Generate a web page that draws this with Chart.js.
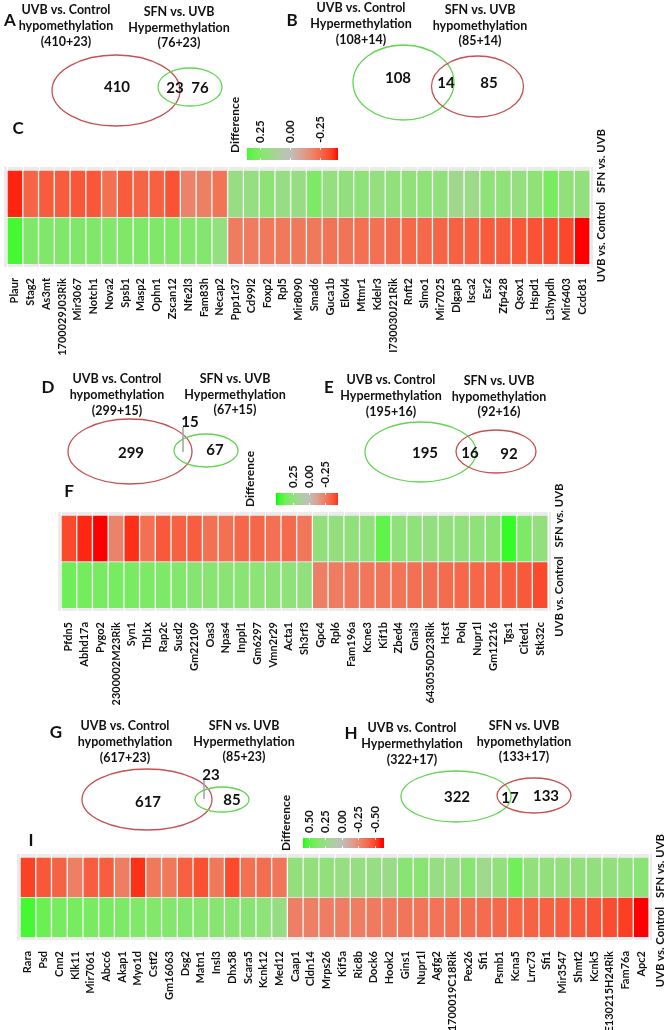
<!DOCTYPE html>
<html>
<head>
<meta charset="utf-8">
<script src="https://cdn.jsdelivr.net/npm/chart.js@4.4.0/dist/chart.umd.min.js"></script>
<style>
  html, body { margin: 0; padding: 0; background: #fff; }
  #page { position: relative; width: 666px; height: 1030px; overflow: hidden; }
  .box { position: absolute; left: 0; width: 666px; }
</style>
</head>
<body>
<div id="page"></div>
<script>
// ---- data ----
const rowLabels = ["UVB vs. Control", "SFN vs. UVB"]; // bottom row, top row

const genesC = ["Plaur","Stag2","As3mt","1700029J03Rik","Mir3067","Notch1","Nova2","Spsb1","Masp2","Ophn1","Zscan12","Nfe2l3","Fam83h","Necap2","Ppp1r37","Cd99l2","Foxp2","Rpl5","Mir8090","Smad6","Guca1b","Elovl4","Mtmr1","Kdelr3","I730030J21Rik","Rnft2","Slmo1","Mir7025","Dlgap5","Isca2","Esr2","Zfp428","Qsox1","Hspd1","L3hypdh","Mir6403","Ccdc81"];
const sfnUvbC = [-0.38,-0.27,-0.29,-0.29,-0.30,-0.30,-0.24,-0.29,-0.27,-0.28,-0.31,-0.19,-0.20,-0.23,0.18,0.19,0.21,0.18,0.18,0.26,0.19,0.20,0.21,0.19,0.20,0.20,0.21,0.20,0.15,0.16,0.21,0.21,0.19,0.21,0.27,0.21,0.20];
const uvbCtrlC = [0.36,0.25,0.25,0.25,0.25,0.25,0.24,0.25,0.25,0.25,0.25,0.24,0.24,0.19,-0.21,-0.21,-0.22,-0.22,-0.22,-0.22,-0.23,-0.23,-0.24,-0.24,-0.25,-0.26,-0.26,-0.27,-0.28,-0.28,-0.29,-0.29,-0.30,-0.31,-0.32,-0.33,-0.40];

const genesF = ["Pfdn5","Abhd17a","Pygo2","2300002M23Rik","Syn1","Tbl1x","Rap2c","Susd2","Gm22109","Oas3","Npas4","Inppl1","Gm6297","Vmn2r29","Acta1","Sh3rf3","Gpc4","Rpl6","Fam196a","Kcne3","Kif1b","Zbed4","Gnai3","6430550D23Rik","Hcst","Polq","Nupr1l","Gm12216","Tgs1","Cited1","Stk32c"];
const sfnUvbF = [-0.41,-0.47,-0.50,-0.24,-0.46,-0.30,-0.37,-0.35,-0.36,-0.30,-0.30,-0.33,-0.33,-0.30,-0.32,-0.28,0.25,0.24,0.25,0.26,0.40,0.26,0.26,0.24,0.25,0.26,0.26,0.28,0.47,0.32,0.25];
const uvbCtrlF = [0.36,0.35,0.34,0.34,0.335,0.325,0.32,0.30,0.29,0.285,0.28,0.275,0.27,0.265,0.26,0.25,-0.25,-0.26,-0.27,-0.28,-0.285,-0.29,-0.30,-0.305,-0.315,-0.325,-0.33,-0.34,-0.36,-0.37,-0.41];

const genesI = ["Rara","Psd","Cnn2","Klk11","Mir7061","Abcc6","Akap1","Myo1d","Cstf2","Gm16063","Dsg2","Matn1","Insl3","Dhx58","Scara5","Kcnk12","Med12","Caap1","Cldn14","Mrps26","Kif5a","Ric8b","Dock6","Hook2","Gins1","Nupr1l","Agfg2","1700019C18Rik","Pex26","Sfi1","Psmb1","Kcna5","Lrrc73","Sfi1","Mir3547","Shmt2","Kcnk5","E130215H24Rik","Fam76a","Apc2"];
const sfnUvbI = [-0.51,-0.45,-0.41,-0.30,-0.43,-0.43,-0.31,-0.55,-0.33,-0.33,-0.42,-0.47,-0.33,-0.49,-0.36,-0.37,-0.34,0.29,0.29,0.30,0.28,0.27,0.27,0.25,0.33,0.33,0.27,0.27,0.33,0.23,0.30,0.43,0.30,0.29,0.30,0.30,0.29,0.30,0.31,0.33];
const uvbCtrlI = [0.54,0.45,0.41,0.41,0.40,0.40,0.39,0.38,0.37,0.36,0.36,0.35,0.34,0.34,0.33,0.32,0.27,-0.30,-0.30,-0.31,-0.31,-0.31,-0.32,-0.32,-0.34,-0.34,-0.35,-0.36,-0.37,-0.38,-0.39,-0.40,-0.41,-0.42,-0.43,-0.44,-0.46,-0.48,-0.52,-0.60];

const legendTicksC = [0.25, 0.00, -0.25];
const legendTicksF = [0.25, 0.00, -0.25];
const legendTicksI = [0.50, 0.25, 0.00, -0.25, -0.50];

const vennLetters = ["A", "B", "D", "E", "G", "H"];
const vennLeftDir = ["hypomethylation", "Hypermethylation", "hypomethylation", "Hypermethylation", "hypomethylation", "Hypermethylation"];
const vennRightDir = ["Hypermethylation", "hypomethylation", "Hypermethylation", "hypomethylation", "Hypermethylation", "hypomethylation"];
const vennLeftOnly = [410, 108, 299, 195, 617, 322];
const vennShared = [23, 14, 15, 16, 23, 17];
const vennRightOnly = [76, 85, 67, 92, 85, 133];

// ---- look ----
const FONT = "Lato, 'Open Sans', sans-serif";
const INK = "#111";
const RED_LINE = "#C45252";
const GREEN_LINE = "#62D452";

// colour ramp grey -> green / red, interpolated in Lab like ggplot
function hexToLab(hex) {
  const c = [1, 3, 5].map(i => parseInt(hex.substr(i, 2), 16) / 255)
    .map(u => u <= 0.04045 ? u / 12.92 : Math.pow((u + 0.055) / 1.055, 2.4));
  const X = (0.4124 * c[0] + 0.3576 * c[1] + 0.1805 * c[2]) / 0.95047;
  const Y = 0.2126 * c[0] + 0.7152 * c[1] + 0.0722 * c[2];
  const Z = (0.0193 * c[0] + 0.1192 * c[1] + 0.9505 * c[2]) / 1.08883;
  const f = t => t > 0.008856 ? Math.cbrt(t) : 7.787 * t + 16 / 116;
  return [116 * f(Y) - 16, 500 * (f(X) - f(Y)), 200 * (f(Y) - f(Z))];
}
function labToRgb(L, a, b) {
  const fy = (L + 16) / 116, fx = fy + a / 500, fz = fy - b / 200;
  const g = t => t * t * t > 0.008856 ? t * t * t : (t - 16 / 116) / 7.787;
  const X = g(fx) * 0.95047, Y = g(fy), Z = g(fz) * 1.08883;
  const lin = [
    3.2406 * X - 1.5372 * Y - 0.4986 * Z,
    -0.9689 * X + 1.8758 * Y + 0.0415 * Z,
    0.0557 * X - 0.2040 * Y + 1.0570 * Z
  ];
  const s = lin.map(u => u <= 0.0031308 ? 12.92 * u : 1.055 * Math.pow(u, 1 / 2.4) - 0.055)
    .map(u => Math.round(Math.max(0, Math.min(1, u)) * 255));
  return `rgb(${s[0]},${s[1]},${s[2]})`;
}
const LAB_MID = hexToLab("#BEBEBE"), LAB_HI = hexToLab("#00FF00"), LAB_LO = hexToLab("#FF0000");
function diffColor(v, limit) {
  const t = Math.min(Math.abs(v) / limit, 1);
  const end = v >= 0 ? LAB_HI : LAB_LO;
  return labToRgb(
    LAB_MID[0] + (end[0] - LAB_MID[0]) * t,
    LAB_MID[1] + (end[1] - LAB_MID[1]) * t,
    LAB_MID[2] + (end[2] - LAB_MID[2]) * t
  );
}

function addBox(id, top, height) {
  const box = document.createElement("div");
  box.className = "box";
  box.style.top = top + "px";
  box.style.height = height + "px";
  const canvas = document.createElement("canvas");
  canvas.id = id;
  box.appendChild(canvas);
  document.getElementById("page").appendChild(box);
  return canvas;
}

// grey ggplot-style panel behind the tiles
const panelPlugin = {
  id: "panel",
  beforeDatasetsDraw(chart) {
    const { ctx, chartArea: a, scales } = chart;
    ctx.save();
    ctx.fillStyle = "#EBEBEB";
    ctx.fillRect(a.left, a.top, a.right - a.left, a.bottom - a.top);
    ctx.strokeStyle = "#FFFFFF";
    ctx.lineWidth = 1;
    const n = chart.data.datasets[0].data.length;
    for (let i = 0; i <= n; i++) {
      const x = Math.round(scales.x.getPixelForValue(i - 0.5)) + 0.5;
      ctx.beginPath();
      ctx.moveTo(x, a.top);
      ctx.lineTo(x, a.bottom);
      ctx.stroke();
    }
    ctx.restore();
  }
};

// rotated row names right of the tiles; they sit end to end around a gap
const rowNamePlugin = {
  id: "rowNames",
  afterDraw(chart, args, opts) {
    const { ctx, chartArea: a } = chart;
    const gapY = opts.gapY - chart.canvas.parentNode.offsetTop;
    ctx.save();
    ctx.fillStyle = INK;
    ctx.font = `bold 11.3px ${FONT}`;
    ctx.textBaseline = "middle";
    [[rowLabels[1], gapY - 4.5, "left"], [rowLabels[0], gapY + 4.5, "right"]].forEach(([name, y, align]) => {
      ctx.save();
      ctx.translate(a.right + 8, y);
      ctx.rotate(-Math.PI / 2);
      ctx.textAlign = align;
      ctx.fillText(name, 0, 0);
      ctx.restore();
    });
    ctx.restore();
  }
};

function makeHeatmap(id, genes, topVals, bottomVals, limit, cells, gapY) {
  const [x0, y0, x1, y1] = cells;
  const m = 3, padTop = 75, axisH = 95;
  const n = genes.length;
  const cw = (x1 - x0) / n;
  const rh = (y1 - y0) / 2;
  const top = y0 - m - padTop;
  const canvas = addBox(id, top, y1 + m + axisH - top);

  const tiles = (vals, row) => vals.map((v, i) => ({ x: i, y: [row, row + 1] }));
  const tileStyle = {
    borderColor: "rgba(255,255,255,0.22)",
    borderWidth: 1,
    grouped: false,
    barPercentage: 1,
    categoryPercentage: 1
  };

  return new Chart(canvas, {
    type: "bar",
    data: {
      datasets: [
        Object.assign({ label: rowLabels[0], data: tiles(bottomVals, 0), backgroundColor: bottomVals.map(v => diffColor(v, limit)) }, tileStyle),
        Object.assign({ label: rowLabels[1], data: tiles(topVals, 1), backgroundColor: topVals.map(v => diffColor(v, limit)) }, tileStyle)
      ]
    },
    options: {
      animation: false,
      responsive: true,
      maintainAspectRatio: false,
      layout: { padding: { left: x0 - m, right: 666 - (x1 + m), top: padTop, bottom: 0 } },
      plugins: {
        legend: { display: false },
        tooltip: { enabled: false },
        rowNames: { gapY: gapY }
      },
      scales: {
        x: {
          type: "linear",
          offset: false,
          min: -0.5 - m / cw,
          max: n - 0.5 + m / cw,
          grid: { display: false },
          border: { display: false },
          afterBuildTicks: scale => { scale.ticks = genes.map((g, i) => ({ value: i })); },
          afterFit: scale => { scale.height = axisH; },
          ticks: {
            autoSkip: false,
            minRotation: 90,
            maxRotation: 90,
            padding: 3,
            color: INK,
            font: { family: FONT, size: 11, weight: "bold" },
            callback: value => genes[value]
          }
        },
        y: {
          type: "linear",
          offset: false,
          min: -m / rh,
          max: 2 + m / rh,
          display: false
        }
      }
    },
    plugins: [panelPlugin, rowNamePlugin]
  });
}

makeHeatmap("heatC", genesC, sfnUvbC, uvbCtrlC, 0.40, [7, 170, 590, 264], 197.5);
makeHeatmap("heatF", genesF, sfnUvbF, uvbCtrlF, 0.50, [61, 515, 548, 608], 552);
makeHeatmap("heatI", genesI, sfnUvbI, uvbCtrlI, 0.60, [20, 857, 649, 937], 902.5);

// ---- Venn diagrams, panel letters and colour legends on one page-sized chart ----
const vennLayout = [
  { letter: [10, 21], t1: [66, 10], t2: [179, 12], e1: [116, 90.5, 64, 35.5], e2: [190, 87, 32, 19], n1: [117, 87], n2: [175, 88], n3: [200, 88] },
  { letter: [292, 21], t1: [361, 8], t2: [480, 10], e1: [403.5, 82.5, 50.5, 37.5], e2: [477.5, 86.5, 46, 30.5], n1: [398, 78], n2: [446, 83], n3: [489, 83] },
  { letter: [48, 388], t1: [117, 379], t2: [235, 379], e1: [130, 451.5, 62, 32.5], e2: [206, 450.5, 32, 16.5], n1: [131, 453], n2: [190, 422], n3: [215, 450], leader: [183, 427, 452] },
  { letter: [329, 388], t1: [391, 380], t2: [499, 381], e1: [420.5, 452, 55.5, 30], e2: [496, 451.5, 40, 21.5], n1: [425, 453], n2: [470, 453], n3: [509, 454] },
  { letter: [56, 733], t1: [125, 726], t2: [244, 726], e1: [147, 799.5, 65, 30.5], e2: [222, 799.5, 27, 12.5], n1: [148, 802], n2: [211, 775], n3: [232, 800], leader: [204, 778, 799] },
  { letter: [351, 734], t1: [412, 728], t2: [524, 726], e1: [456, 796.5, 55, 25.5], e2: [534, 795.5, 37, 17.5], n1: [457, 797], n2: [510, 798], n3: [546, 796] }
];
const heatLetters = [["C", 18, 129], ["F", 69, 492], ["I", 31, 841]];
const legendLayout = [
  { ticks: legendTicksC, limit: 0.40, bar: [247, 148, 338, 160], ends: [0.36, -0.40], diff: [235, 125] },
  { ticks: legendTicksF, limit: 0.50, bar: [276, 493, 338, 505], ends: [0.516, -0.453], diff: [250, 479] },
  { ticks: legendTicksI, limit: 0.60, bar: [303, 838, 384, 848], ends: [0.59, -0.636], diff: [286, 823] }
];

const vennPlugin = {
  id: "venn",
  afterDraw(chart) {
    const { ctx, scales } = chart;
    const px = v => scales.x.getPixelForValue(v);
    const py = v => scales.y.getPixelForValue(v);
    const sx = px(1) - px(0), sy = py(0) - py(1);
    ctx.save();
    ctx.textAlign = "center";
    ctx.textBaseline = "middle";
    ctx.fillStyle = INK;

    vennLayout.forEach((L, k) => {
      // titles
      ctx.font = `bold 12.5px ${FONT}`;
      const left = ["UVB vs. Control", vennLeftDir[k], `(${vennLeftOnly[k]}+${vennShared[k]})`];
      const right = ["SFN vs. UVB", vennRightDir[k], `(${vennRightOnly[k]}+${vennShared[k]})`];
      left.forEach((s, j) => ctx.fillText(s, px(L.t1[0]), py(L.t1[1] + j * 15.8)));
      right.forEach((s, j) => ctx.fillText(s, px(L.t2[0]), py(L.t2[1] + j * 15.6)));

      // sets
      [[L.e1, vennLeftDir[k]], [L.e2, vennRightDir[k]]].forEach(([e, dir]) => {
        ctx.beginPath();
        ctx.ellipse(px(e[0]), py(e[1]), e[2] * sx, Math.abs(e[3] * sy), 0, 0, Math.PI * 2);
        ctx.strokeStyle = dir === "hypomethylation" ? RED_LINE : GREEN_LINE;
        ctx.lineWidth = 1.3;
        ctx.stroke();
      });

      if (L.leader) {
        ctx.beginPath();
        ctx.moveTo(px(L.leader[0]), py(L.leader[1]));
        ctx.lineTo(px(L.leader[0]), py(L.leader[2]));
        ctx.strokeStyle = "#A0A0A0";
        ctx.lineWidth = 1.5;
        ctx.stroke();
      }

      ctx.fillStyle = INK;
      ctx.font = `bold 15px ${FONT}`;
      ctx.fillText(String(vennLeftOnly[k]), px(L.n1[0]), py(L.n1[1]));
      ctx.fillText(String(vennShared[k]), px(L.n2[0]), py(L.n2[1]));
      ctx.fillText(String(vennRightOnly[k]), px(L.n3[0]), py(L.n3[1]));

      ctx.font = `bold 17px ${FONT}`;
      ctx.fillText(vennLetters[k], px(L.letter[0]), py(L.letter[1]));
    });

    ctx.font = `bold 17px ${FONT}`;
    heatLetters.forEach(([s, x, y]) => ctx.fillText(s, px(x), py(y)));

    // colour legends
    legendLayout.forEach(G => {
      const [bx0, by0, bx1, by1] = G.bar;
      const valToX = v => bx0 + (G.ends[0] - v) / (G.ends[0] - G.ends[1]) * (bx1 - bx0);
      const grad = ctx.createLinearGradient(px(bx0), 0, px(bx1), 0);
      for (let s = 0; s <= 30; s++) {
        const v = G.ends[0] + (G.ends[1] - G.ends[0]) * s / 30;
        grad.addColorStop(s / 30, diffColor(v, G.limit));
      }
      ctx.fillStyle = grad;
      ctx.fillRect(px(bx0), py(by0), px(bx1) - px(bx0), py(by1) - py(by0));

      ctx.strokeStyle = "rgba(255,255,255,0.9)";
      ctx.lineWidth = 1;
      G.ticks.forEach(t => {
        const x = Math.round(px(valToX(t))) + 0.5;
        ctx.beginPath();
        ctx.moveTo(x, py(by0)); ctx.lineTo(x, py(by0) + 2);
        ctx.moveTo(x, py(by1) - 2); ctx.lineTo(x, py(by1));
        ctx.stroke();
      });

      ctx.fillStyle = INK;
      ctx.font = `bold 11.5px ${FONT}`;
      G.ticks.forEach(t => {
        ctx.save();
        ctx.translate(px(valToX(t)), py(by0 - 5));
        ctx.rotate(-Math.PI / 2);
        ctx.textAlign = "left";
        ctx.fillText(t.toFixed(2), 0, 0);
        ctx.restore();
      });

      ctx.font = `bold 12px ${FONT}`;
      ctx.save();
      ctx.translate(px(G.diff[0]), py(G.diff[1]));
      ctx.rotate(-Math.PI / 2);
      ctx.textAlign = "center";
      ctx.fillText("Difference", 0, 0);
      ctx.restore();
    });
    ctx.restore();
  }
};

new Chart(addBox("venn", 0, 1030), {
  type: "scatter",
  data: { datasets: [] },
  options: {
    animation: false,
    responsive: true,
    maintainAspectRatio: false,
    layout: { padding: 0 },
    plugins: { legend: { display: false }, tooltip: { enabled: false } },
    scales: {
      x: { type: "linear", min: 0, max: 666, display: false },
      y: { type: "linear", min: 0, max: 1030, reverse: true, display: false }
    }
  },
  plugins: [vennPlugin]
});
</script>
</body>
</html>
